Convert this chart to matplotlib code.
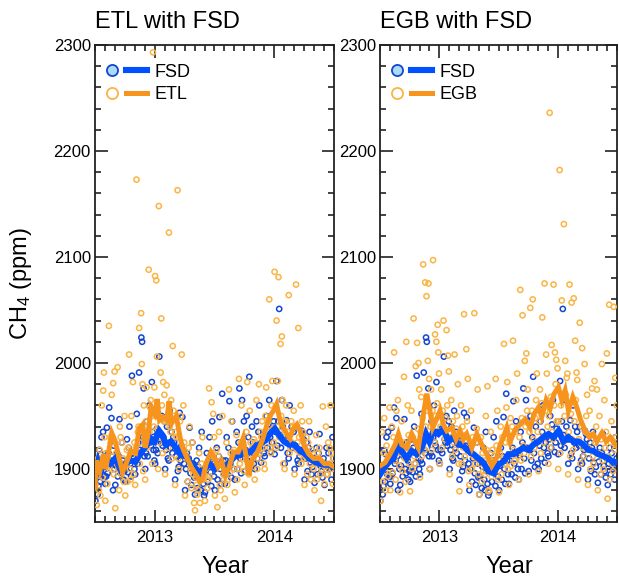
import numpy as np
import matplotlib
matplotlib.use("Agg")
import matplotlib.pyplot as plt
from matplotlib.lines import Line2D
from matplotlib.legend_handler import HandlerTuple
from matplotlib.ticker import MultipleLocator

plt.rcParams['font.family'] = ['Liberation Sans', 'DejaVu Sans']
plt.rcParams['mathtext.fontset'] = 'custom'
plt.rcParams['mathtext.rm'] = 'Liberation Sans'
plt.rcParams['mathtext.it'] = 'Liberation Sans:italic'

start_year = 2012.5

# CH4 samples (ppm), grouped by month, Jul 2012 .. Jun 2014
fsd_obs = [
    [1870, 1902, 1876, 1918, 1888, 1930, 1895, 1935, 1910, 1893],
    [1886, 1939, 1896, 1958, 1905, 1948, 1912, 1880, 1922, 1900],
    [1885, 1915, 1893, 1947, 1900, 1925, 1908, 1890, 1898],
    [1888, 1928, 1897, 1940, 1905, 1988, 1915, 1910, 1900],
    [1895, 1952, 1905, 1991, 1918, 2024, 2020, 1930, 1976, 1912],
    [1900, 1945, 1912, 1960, 1925, 1982, 1935, 1918, 1908],
    [1905, 1938, 1915, 2006, 1928, 1950, 1922, 1930, 1945],
    [1900, 1940, 1910, 1955, 1920, 1915, 1930, 1925],
    [1890, 1930, 1898, 1953, 1908, 1949, 1918, 1905],
    [1880, 1915, 1888, 1939, 1896, 1925, 1905, 1892],
    [1876, 1908, 1882, 1920, 1890, 1935, 1898, 1886, 1875],
    [1878, 1915, 1888, 1930, 1897, 1945, 1905, 1893],
    [1880, 1920, 1890, 1949, 1900, 1971, 1908, 1895],
    [1886, 1930, 1895, 1964, 1905, 1945, 1915, 1900],
    [1890, 1935, 1900, 1976, 1910, 1965, 1920, 1945],
    [1898, 1950, 1908, 1987, 1915, 1940, 1925, 1905],
    [1900, 1945, 1910, 1960, 1920, 1925, 1930, 1915],
    [1912, 1950, 1920, 1965, 1930, 1925, 1938, 1945],
    [1914, 1983, 1922, 2051, 1932, 1965, 1940, 1928],
    [1905, 1946, 1915, 1960, 1925, 1920, 1935],
    [1900, 1940, 1908, 1912, 1918, 1933, 1928],
    [1890, 1925, 1898, 1935, 1906, 1902, 1915],
    [1887, 1920, 1895, 1933, 1903, 1892, 1910],
    [1885, 1920, 1895, 1900, 1902, 1930, 1910],
]
fsd_more = [
    [1898, 1884, 1914], [1893, 1915, 1908], [1903, 1912, 1896], [1902, 1920, 1893],
    [1908, 1925, 1915], [1915, 1930, 1922], [1918, 1935, 1925], [1918, 1908, 1935],
    [1912, 1902, 1922], [1900, 1910, 1885], [1893, 1902, 1880], [1899, 1908, 1884],
    [1903, 1912, 1886], [1908, 1920, 1892], [1913, 1925, 1896], [1918, 1930, 1902],
    [1922, 1935, 1906], [1928, 1942, 1916], [1935, 1945, 1920], [1928, 1910, 1940],
    [1922, 1905, 1936], [1910, 1920, 1895], [1907, 1915, 1898], [1905, 1915, 1890],
]

etl_obs = [
    [1885, 1866, 1898, 1880, 1918, 1905, 1960, 1892, 1974, 1991, 1930],
    [1870, 1908, 1886, 2035, 1900, 1925, 1970, 1912, 1981, 1895, 1992],
    [1863, 1905, 1996, 1880, 1940, 1895, 1925, 1910, 1888, 1950],
    [1875, 1918, 1888, 2008, 1900, 1950, 1912, 1982, 1895, 1925],
    [1885, 2173, 1910, 1940, 2033, 1925, 2047, 1999, 1980, 1898, 1960, 1930],
    [1890, 1977, 1920, 2088, 1935, 1965, 1950, 1905, 2293, 1940, 1977],
    [2082, 2078, 2006, 1900, 2148, 1930, 1991, 2042, 1960, 1915, 1982, 1945, 1970],
    [1895, 1979, 1925, 2123, 1940, 1965, 1910, 2016, 1955, 1930],
    [1885, 1930, 2163, 1900, 1945, 2008, 1915, 1960, 1925],
    [1875, 1912, 1888, 1940, 1900, 1925, 1895, 1868],
    [1861, 1885, 1876, 1915, 1868, 1905, 1930, 1890, 1895],
    [1870, 1905, 1882, 1976, 1893, 1963, 1915, 1952, 1930],
    [1875, 1918, 1864, 1935, 1885, 1905, 1950, 1895, 1890],
    [1872, 1925, 1885, 1975, 1897, 1945, 1910, 1900, 1918],
    [1878, 1932, 1890, 1985, 1905, 1960, 1918, 1910, 1898],
    [1885, 1935, 1982, 1895, 1955, 1905, 1920, 1912, 1928],
    [1890, 1965, 1900, 1980, 1915, 1930, 1945, 1920, 1905],
    [1900, 1977, 1930, 1945, 2060, 1915, 1960, 1983, 1938, 1925],
    [2086, 1920, 2040, 1983, 2081, 1935, 2018, 1950, 2025, 1965, 1905, 1945],
    [1900, 1960, 1930, 2064, 1915, 1945, 1925, 1940, 1955],
    [1895, 2074, 1918, 2033, 1930, 1960, 1905, 1945, 1935, 1910],
    [1885, 1930, 1895, 1945, 1905, 1918, 1908, 1900],
    [1880, 1932, 1890, 1910, 1920, 1870, 1900, 1959, 1905],
    [1886, 1940, 1895, 1925, 1905, 1960, 1915, 1900, 1886, 1910],
]
etl_more = [
    [1895, 1910, 1875], [1915, 1902, 1930], [1915, 1900, 1930], [1905, 1920, 1890],
    [1920, 1935, 1905], [1945, 1930, 1958], [1950, 1938, 1925], [1945, 1920, 1935],
    [1935, 1910, 1950], [1910, 1920, 1882], [1892, 1880, 1900], [1900, 1890, 1910],
    [1900, 1912, 1880], [1905, 1890, 1915], [1915, 1900, 1925], [1912, 1900, 1925],
    [1925, 1910, 1935], [1950, 1935, 1920], [1958, 1940, 1930], [1945, 1935, 1920],
    [1940, 1925, 1915], [1912, 1925, 1890], [1905, 1915, 1895], [1902, 1895, 1920],
]

egb_obs = [
    [1870, 1935, 1888, 1948, 1898, 1922, 1905, 1893, 1912, 1958],
    [1880, 1940, 1897, 2010, 1908, 1955, 1918, 1965, 1928, 1903],
    [1878, 1945, 1898, 1987, 1910, 2020, 1920, 1960, 1932, 1905],
    [1879, 1955, 1900, 2042, 1912, 1997, 1925, 2019, 1938, 2000, 1975],
    [1892, 1968, 1912, 2093, 1925, 2076, 1940, 2063, 1955, 2002, 2075, 1985],
    [1900, 1975, 1918, 2097, 1935, 2027, 1950, 2020, 1962, 2036, 2010, 1990],
    [1905, 1975, 1920, 2040, 1935, 1948, 2031, 1960, 2007, 1992],
    [1895, 1965, 1912, 1925, 2008, 1938, 1950, 1980, 1905],
    [1879, 1960, 1905, 1920, 2046, 1932, 2013, 1945, 1985, 1898],
    [1885, 1955, 1900, 1912, 2047, 1925, 1938, 1975, 1895],
    [1876, 1930, 1888, 1898, 1908, 1950, 1918, 1978, 1879],
    [1880, 1935, 1893, 1903, 1912, 1985, 1922, 1955, 1890],
    [1878, 1940, 1895, 1910, 2018, 1925, 1958, 1982, 1900],
    [1885, 1948, 1903, 2021, 1918, 1935, 1965, 1990, 1912],
    [1890, 2069, 1908, 2045, 1922, 2002, 1940, 2009, 1955, 1975],
    [1895, 2052, 1912, 2060, 1928, 1948, 1965, 1990, 1935],
    [1898, 1975, 1915, 2043, 1930, 2075, 1955, 2008, 1990, 1940],
    [1905, 2236, 1920, 2017, 1935, 2074, 1960, 2010, 1980, 2003, 1945, 1995],
    [1900, 2182, 1915, 2059, 1930, 2131, 1950, 2002, 1970, 1986, 1990],
    [1895, 2074, 1912, 2057, 1928, 2061, 1945, 2021, 1965, 1991, 1984],
    [1890, 2038, 1905, 2014, 1920, 1999, 1935, 1950, 1970],
    [1885, 1955, 1900, 1976, 1912, 1983, 1925, 1940, 1975],
    [1880, 1950, 1895, 1999, 1908, 1965, 1920, 1935, 2009],
    [1872, 2055, 1890, 1945, 1905, 2053, 1918, 1986, 1930, 1960],
]
egb_more = [
    [1900, 1915, 1880], [1912, 1930, 1890], [1915, 1925, 1888], [1918, 1930, 1905],
    [1935, 1948, 1918], [1940, 1955, 1925], [1940, 1955, 1928], [1930, 1945, 1918],
    [1925, 1940, 1912], [1918, 1930, 1905], [1905, 1915, 1895], [1908, 1918, 1898],
    [1915, 1930, 1905], [1925, 1940, 1908], [1930, 1948, 1915], [1935, 1955, 1920],
    [1945, 1962, 1925], [1950, 1968, 1928], [1945, 1960, 1925], [1935, 1952, 1918],
    [1928, 1940, 1912], [1920, 1932, 1905], [1915, 1928, 1900], [1912, 1925, 1898],
]

# smoothed curves (decimal year, ppm)
fsd1_t = [2012.500, 2012.528, 2012.556, 2012.585, 2012.627, 2012.669, 2012.712, 2012.754,
          2012.797, 2012.839, 2012.881, 2012.924, 2012.966, 2013.000, 2013.037, 2013.065,
          2013.093, 2013.136, 2013.178, 2013.220, 2013.263, 2013.305, 2013.347, 2013.390,
          2013.418, 2013.460, 2013.503, 2013.545, 2013.588, 2013.630, 2013.672, 2013.715,
          2013.757, 2013.799, 2013.842, 2013.884, 2013.927, 2013.969, 2014.006, 2014.040,
          2014.082, 2014.124, 2014.167, 2014.209, 2014.251, 2014.294, 2014.336, 2014.379,
          2014.421, 2014.463, 2014.500]
fsd1_v = [1890, 1907, 1900, 1910, 1905, 1910, 1900, 1905, 1908, 1907, 1915, 1921, 1929,
          1926, 1936, 1932, 1923, 1926, 1920, 1913, 1912, 1905, 1900, 1894, 1900, 1905,
          1900, 1905, 1902, 1907, 1912, 1913, 1916, 1916, 1921, 1924, 1927, 1934, 1938,
          1932, 1926, 1923, 1923, 1918, 1915, 1910, 1907, 1905, 1904, 1904, 1902]

etl_t = [2012.50, 2012.51, 2012.54, 2012.57, 2012.59, 2012.64, 2012.67, 2012.70, 2012.73,
         2012.76, 2012.80, 2012.84, 2012.87, 2012.90, 2012.92, 2012.94, 2012.97, 2013.00,
         2013.02, 2013.04, 2013.07, 2013.10, 2013.12, 2013.14, 2013.18, 2013.21, 2013.23,
         2013.26, 2013.31, 2013.35, 2013.38, 2013.40, 2013.43, 2013.47, 2013.50, 2013.53,
         2013.56, 2013.59, 2013.62, 2013.66, 2013.70, 2013.74, 2013.79, 2013.81, 2013.86,
         2013.90, 2013.94, 2013.97, 2014.00, 2014.02, 2014.05, 2014.10, 2014.13, 2014.16,
         2014.19, 2014.22, 2014.25, 2014.29, 2014.33, 2014.38, 2014.42, 2014.46, 2014.50]
etl_v = [1882, 1908, 1898, 1914, 1900, 1934, 1926, 1911, 1897, 1905, 1917, 1915, 1939,
         1942, 1920, 1930, 1958, 1952, 1966, 1946, 1949, 1946, 1964, 1943, 1950, 1931,
         1921, 1913, 1901, 1894, 1888, 1890, 1905, 1916, 1910, 1902, 1907, 1894, 1901,
         1916, 1916, 1929, 1894, 1907, 1916, 1927, 1942, 1951, 1956, 1961, 1945, 1934,
         1929, 1938, 1942, 1935, 1922, 1914, 1910, 1910, 1905, 1905, 1902]

fsd2_t = [2012.500, 2012.528, 2012.570, 2012.613, 2012.655, 2012.683, 2012.725, 2012.767,
          2012.809, 2012.852, 2012.888, 2012.916, 2012.950, 2012.992, 2013.034, 2013.077,
          2013.119, 2013.161, 2013.203, 2013.245, 2013.288, 2013.330, 2013.372, 2013.414,
          2013.456, 2013.499, 2013.541, 2013.583, 2013.625, 2013.667, 2013.710, 2013.752,
          2013.794, 2013.836, 2013.878, 2013.921, 2013.963, 2014.005, 2014.047, 2014.089,
          2014.132, 2014.174, 2014.216, 2014.258, 2014.300, 2014.342, 2014.385, 2014.427,
          2014.469, 2014.500]
fsd2_v = [1895, 1900, 1906, 1910, 1923, 1917, 1910, 1917, 1914, 1920, 1933, 1926, 1936,
          1933, 1938, 1926, 1930, 1923, 1922, 1917, 1914, 1910, 1906, 1898, 1896, 1904,
          1907, 1914, 1914, 1917, 1920, 1918, 1923, 1926, 1930, 1933, 1930, 1936, 1926,
          1930, 1926, 1926, 1923, 1918, 1917, 1914, 1912, 1910, 1906, 1907]

egb_t = [2012.500, 2012.542, 2012.584, 2012.627, 2012.655, 2012.683, 2012.725, 2012.767,
         2012.795, 2012.823, 2012.866, 2012.894, 2012.916, 2012.944, 2012.973, 2013.006,
         2013.034, 2013.063, 2013.105, 2013.141, 2013.175, 2013.203, 2013.231, 2013.274,
         2013.316, 2013.358, 2013.400, 2013.442, 2013.485, 2013.513, 2013.541, 2013.569,
         2013.597, 2013.639, 2013.681, 2013.724, 2013.766, 2013.800, 2013.836, 2013.864,
         2013.901, 2013.935, 2013.968, 2014.005, 2014.033, 2014.061, 2014.089, 2014.126,
         2014.160, 2014.193, 2014.230, 2014.266, 2014.300, 2014.328, 2014.371, 2014.407,
         2014.441, 2014.483, 2014.500]
egb_v = [1903, 1906, 1914, 1923, 1933, 1923, 1920, 1933, 1926, 1920, 1952, 1971, 1958,
         1939, 1946, 1955, 1942, 1936, 1939, 1928, 1936, 1928, 1933, 1920, 1933, 1923,
         1914, 1903, 1911, 1923, 1930, 1939, 1926, 1937, 1942, 1947, 1939, 1952, 1958,
         1949, 1965, 1957, 1971, 1977, 1965, 1974, 1955, 1968, 1958, 1946, 1936, 1930,
         1933, 1926, 1934, 1926, 1930, 1923, 1922]


def month_points(obs, more):
    x, y = [], []
    for m, (vals, extra) in enumerate(zip(obs, more)):
        vals = list(vals)
        for k, v in enumerate(extra):
            vals.insert(3 * k + 1, v)
        n = len(vals)
        for j, v in enumerate(vals):
            x.append(start_year + (m + (j + 0.5) / n) / 12)
            y.append(v)
    return np.array(x), np.array(y)


blue_pt = '#1446d2'
blue_ln = '#0050ff'
orng_pt = '#fbb445'
orng_ln = '#f7941d'

fig = plt.figure(figsize=(6.19, 5.79), dpi=100)
ax1 = fig.add_axes([0.1535, 0.0984, 0.386, 0.824])
ax2 = fig.add_axes([0.614, 0.0984, 0.383, 0.824])

fx, fy = month_points(fsd_obs, fsd_more)
panels = [
    (ax1, 'ETL', etl_obs, etl_more, fsd1_t, fsd1_v, etl_t, etl_v),
    (ax2, 'EGB', egb_obs, egb_more, fsd2_t, fsd2_v, egb_t, egb_v),
]

for ax, name, obs, more, bt, bv, ot, ov in panels:
    ox, oy = month_points(obs, more)
    ax.scatter(fx, fy, s=14, facecolors='none', edgecolors=blue_pt, linewidths=1.1, zorder=2)
    ax.scatter(ox, oy, s=14, facecolors='none', edgecolors=orng_pt, linewidths=1.1, zorder=3)
    ax.plot(bt, bv, color=blue_ln, lw=4.4, zorder=4, solid_joinstyle='miter')
    ax.plot(ot, ov, color=orng_ln, lw=3.6, zorder=5, solid_joinstyle='miter')

    ax.set_xlim(2012.5, 2014.5)
    ax.set_ylim(1850, 2300)
    ax.set_xticks([2013, 2014])
    ax.set_xticklabels(['2013', '2014'])
    ax.xaxis.set_minor_locator(MultipleLocator(1 / 12))
    ax.set_yticks([1900, 2000, 2100, 2200, 2300])
    ax.yaxis.set_minor_locator(MultipleLocator(20))
    ax.tick_params(which='both', direction='in', top=True, right=True, width=1.2,
                   labelsize=12, color='#222222')
    ax.tick_params(which='major', length=9)
    ax.tick_params(which='minor', length=4.5)
    ax.tick_params(axis='y', pad=3)
    ax.tick_params(axis='x', pad=6)
    for sp in ax.spines.values():
        sp.set_linewidth(1.3)
        sp.set_color('#222222')

    ax.set_title(name + ' with FSD', loc='left', fontsize=17, pad=12)
    ax.set_xlabel('Year', fontsize=17, labelpad=8)
    ax.xaxis.set_label_coords(0.545, -0.071)

    h_fsd = (Line2D([], [], ls='none', marker='o', ms=8, mfc='#aadcf5', mec=blue_pt, mew=1.3),
             Line2D([], [], color=blue_ln, lw=4.4))
    h_oth = (Line2D([], [], ls='none', marker='o', ms=8, mfc='white', mec=orng_pt, mew=1.3),
             Line2D([], [], color=orng_ln, lw=3.6))
    ax.legend([h_fsd, h_oth], ['FSD', name], loc='upper left', frameon=False, fontsize=13,
              bbox_to_anchor=(0.0, 0.973),
              handler_map={tuple: HandlerTuple(ndivide=None, pad=0.17)},
              handlelength=2.55, handletextpad=0.4, labelspacing=0.3,
              borderaxespad=0.0, borderpad=0.33)

ax1.set_ylabel('CH$_4$ (ppm)', fontsize=17, labelpad=14)

fig.savefig('out.png', dpi=100)
